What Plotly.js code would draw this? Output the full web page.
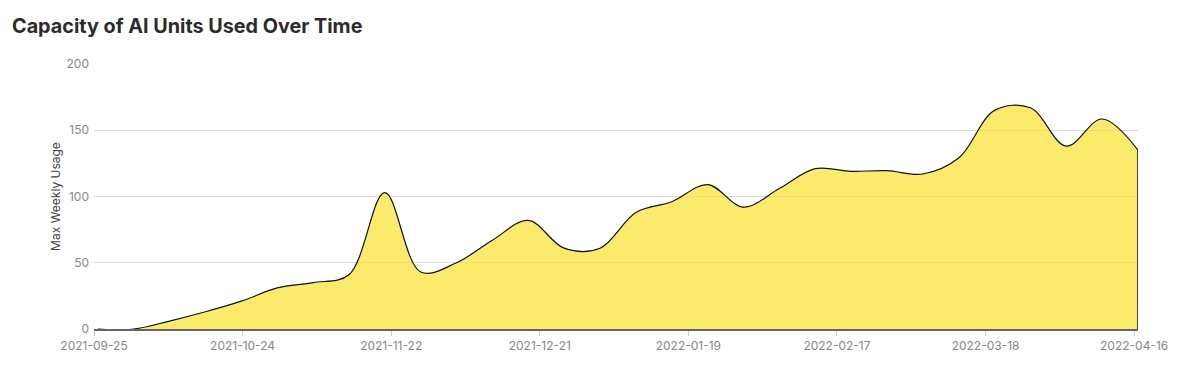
<!DOCTYPE html>
<html>
<head>
<meta charset="utf-8">
<script src="https://cdn.plot.ly/plotly-3.0.1.min.js"></script>
<style>
html,body{margin:0;padding:0;background:#fff;}
#chart{width:1182px;height:372px;}
</style>
</head>
<body>
<div id="chart"></div>
<script>
// Weekly dates from 2021-09-25 to 2022-04-16
const weekStarts = [
  "2021-09-25","2021-10-02","2021-10-09","2021-10-16","2021-10-23","2021-10-30",
  "2021-11-06","2021-11-13","2021-11-20","2021-11-27","2021-12-04","2021-12-11",
  "2021-12-18","2021-12-25","2022-01-01","2022-01-08","2022-01-15","2022-01-22",
  "2022-01-29","2022-02-05","2022-02-12","2022-02-19","2022-02-26","2022-03-05",
  "2022-03-12","2022-03-19","2022-03-26","2022-04-02","2022-04-09","2022-04-16"
];
const maxWeeklyUsage = [
  0, 0, 6, 13, 21, 31,
  35, 41, 103, 43, 50, 67,
  82, 61, 61, 88, 96, 109,
  92, 106, 121, 119, 119.5, 117,
  129, 165, 167, 138, 158.5, 135
];
const tickDates = ["2021-09-25","2021-10-24","2021-11-22","2021-12-21","2022-01-19","2022-02-17","2022-03-18","2022-04-16"];
const chartTitle = "Capacity of AI Units Used Over Time";
const yTitle = "Max Weekly Usage";

// ticks in the reference sit slightly left of the data day (timezone offset)
const TICK_SHIFT_MS = -18 * 3600 * 1000;
function shifted(d) {
  const t = new Date(d + "T00:00:00Z").getTime() + TICK_SHIFT_MS;
  return new Date(t).toISOString().replace("T", " ").slice(0, 19);
}

const lastX = weekStarts[weekStarts.length - 1];
const lastY = maxWeeklyUsage[maxWeeklyUsage.length - 1];

const traces = [
  {
    x: weekStarts, y: maxWeeklyUsage, type: "scatter", mode: "lines",
    fill: "tozeroy", fillcolor: "rgba(250,222,30,0.65)",
    line: {color: "#111", width: 1.2, shape: "spline", smoothing: 1},
    hoverinfo: "x+y"
  },
  {
    x: [lastX, lastX], y: [0, lastY], type: "scatter", mode: "lines",
    line: {color: "#111", width: 1.5}, hoverinfo: "skip"
  }
];

const layout = {
  width: 1182, height: 372,
  margin: {l: 94, r: 44, t: 64, b: 43},
  paper_bgcolor: "#fff", plot_bgcolor: "#fff",
  showlegend: false,
  font: {family: "Inter, 'Noto Sans', sans-serif", color: "#888", size: 12},
  title: {
    text: "<b>" + chartTitle + "</b>",
    font: {family: "Inter, sans-serif", size: 19.8, color: "#2b2b2b"},
    x: 12/1182, xref: "container", xanchor: "left",
    y: 1 - 26/372, yref: "container", yanchor: "middle"
  },
  xaxis: {
    type: "date",
    range: [shifted(weekStarts[0]), lastX + " 00:00:00"],
    tickvals: tickDates.map(shifted), ticktext: tickDates,
    showgrid: false, zeroline: false,
    showline: true, linecolor: "#666", linewidth: 1.5,
    ticks: "outside", ticklen: 5, tickcolor: "#ccc",
    tickfont: {size: 12, color: "#888"}
  },
  yaxis: {
    range: [0, 200], dtick: 50, tick0: 0,
    showgrid: true, gridcolor: "#dcdcdc", gridwidth: 1,
    zeroline: false, showline: false, ticks: "",
    ticklabelstandoff: 4,
    tickfont: {size: 12, color: "#888"},
    title: {text: yTitle, font: {size: 12, color: "#444"}, standoff: 3}
  }
};

Plotly.newPlot("chart", traces, layout, {displayModeBar: false});
</script>
</body>
</html>
